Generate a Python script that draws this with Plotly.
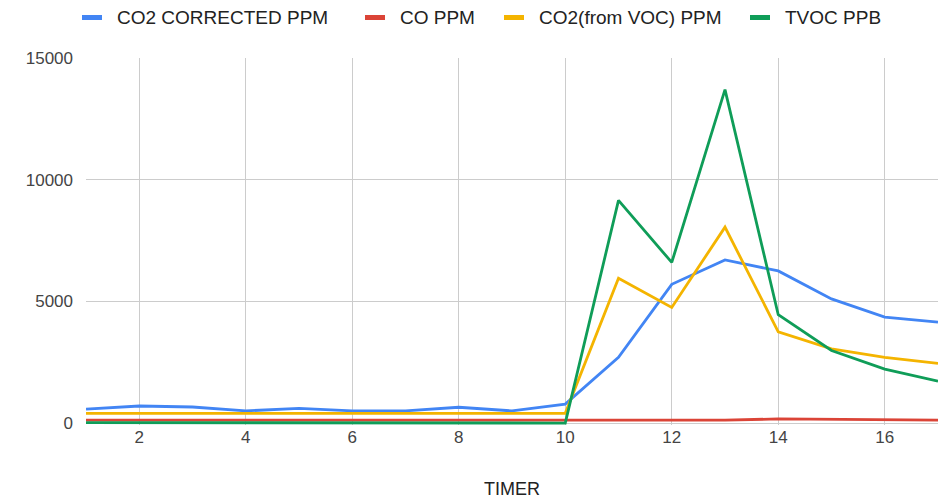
import plotly.graph_objects as go

timer = list(range(1, 18))
co2_corrected = [575, 700, 660, 500, 600, 500, 500, 650, 500, 780, 2700, 5700, 6700, 6250, 5100, 4350, 4150]
co_ppm = [120, 120, 120, 120, 120, 120, 120, 120, 120, 120, 110, 110, 120, 170, 150, 130, 120]
co2_voc = [400, 400, 400, 400, 400, 400, 400, 400, 400, 400, 5950, 4750, 8050, 3750, 3050, 2700, 2450]
tvoc = [20, 20, 20, 20, 20, 20, 20, 20, 20, 0, 9150, 6600, 13700, 4450, 2980, 2220, 1720]

names = ["CO2 CORRECTED PPM", "CO PPM", "CO2(from VOC) PPM", "TVOC PPB"]
series = [co2_corrected, co_ppm, co2_voc, tvoc]
colors = ["#4285F4", "#DB4437", "#F4B400", "#0F9D58"]

y_ticks = [0, 5000, 10000, 15000]
x_ticks = [2, 4, 6, 8, 10, 12, 14, 16]

W, H = 938, 499
L, R, T, B = 86, 0, 58, 74
PW, PH = W - L - R, H - T - B

fig = go.Figure()
for n, s, c in zip(names, series, colors):
    fig.add_trace(go.Scatter(x=timer, y=s, name=n, mode="lines",
                             line=dict(color=c, width=2.8)))

# custom legend (pixel positions converted to paper coords)
legend_sym_x = [82, 365, 504, 750]
legend_y_px = 17.5
def px2x(p):
    return (p - L) / PW
def py2y(p):
    return (H - B - p) / PH

for n, c, sx in zip(names, colors, legend_sym_x):
    fig.add_shape(type="rect", xref="paper", yref="paper",
                  x0=px2x(sx), x1=px2x(sx + 20),
                  y0=py2y(legend_y_px + 2.5), y1=py2y(legend_y_px - 2.5),
                  fillcolor=c, line=dict(width=0))
    fig.add_annotation(xref="paper", yref="paper", x=px2x(sx + 33), y=py2y(legend_y_px),
                       xanchor="left", yanchor="middle", text=n, showarrow=False,
                       font=dict(size=19, color="#222"))

fig.update_layout(
    width=W, height=H,
    margin=dict(l=L, r=R, t=T, b=B),
    paper_bgcolor="white", plot_bgcolor="white",
    font=dict(family="Liberation Sans, Arial, sans-serif", size=17, color="#444"),
    showlegend=False,
    xaxis=dict(range=[1, 17], tickvals=x_ticks,
               showgrid=True, gridcolor="#cccccc", gridwidth=1, zeroline=False,
               showline=False, ticks="",
               title=dict(text="TIMER", font=dict(size=18, color="#222"), standoff=37)),
    yaxis=dict(range=[-80, 15000], tickvals=y_ticks, ticktext=[str(v) for v in y_ticks],
               showgrid=True, gridcolor="#cccccc", gridwidth=1, zeroline=True,
               zerolinecolor="#cccccc", zerolinewidth=1, showline=False, ticks="",
               ticklabelstandoff=12),
)

fig.write_html("out.html")
